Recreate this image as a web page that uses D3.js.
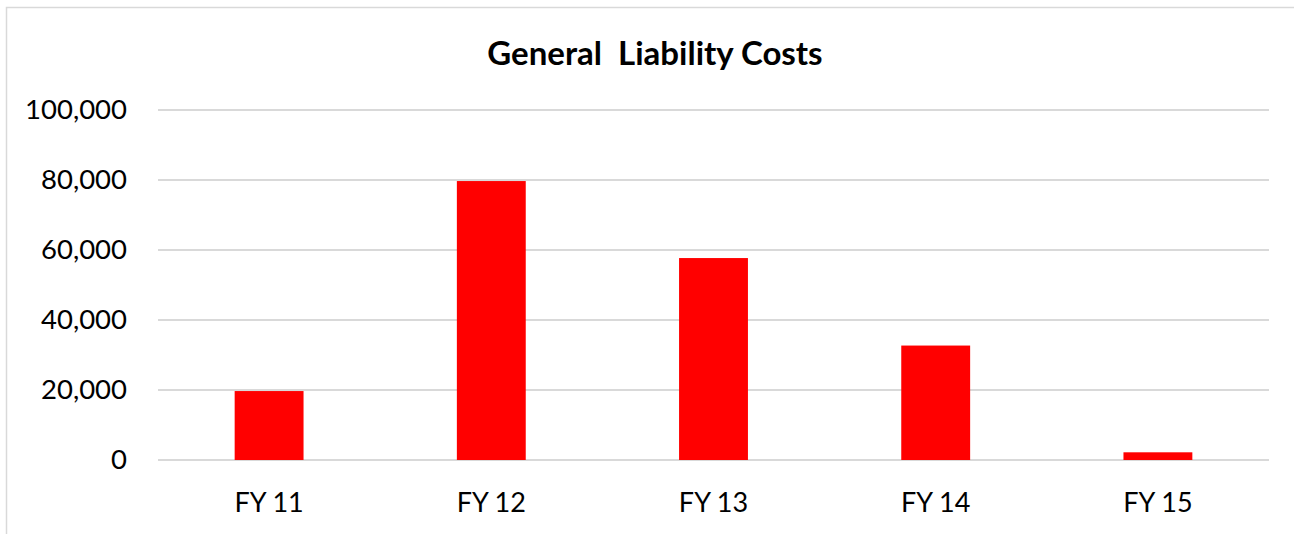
<!DOCTYPE html>
<meta charset="utf-8">
<html>
<head>
<style>
  body { margin: 0; background: #fff; }
  text { font-family: Lato, "Open Sans", sans-serif; }
</style>
</head>
<body>
<div id="chart"></div>
<script src="https://d3js.org/d3.v7.min.js"></script>
<script>
  // data
  var categories = ["FY 11", "FY 12", "FY 13", "FY 14", "FY 15"];
  var costs = [19700, 79700, 57700, 32700, 2200];
  var yTicks = [0, 20000, 40000, 60000, 80000, 100000];

  var W = 1294, H = 534;
  var margin = {top: 110, right: 25, bottom: 74, left: 158};
  var width = W - margin.left - margin.right,
      height = H - margin.top - margin.bottom;

  var svg = d3.select("#chart").append("svg")
      .attr("width", W)
      .attr("height", H);

  // outer chart border
  svg.append("rect")
    .attr("x", 6.5).attr("y", 7.5)
    .attr("width", 1300).attr("height", 540)
    .attr("fill", "none")
    .attr("stroke", "#d9d9d9")
    .attr("stroke-width", 1.5);

  svg.append("text")
    .attr("x", 655).attr("y", 65)
    .attr("text-anchor", "middle")
    .style("font-size", "33px")
    .style("font-weight", "bold")
    .attr("xml:space", "preserve")
    .text("General  Liability Costs");

  var g = svg.append("g")
    .attr("transform", "translate(" + margin.left + "," + margin.top + ")");

  var x = d3.scaleBand()
    .domain(categories)
    .range([0, width])
    .paddingInner(0.69)
    .paddingOuter(0.345);

  var y = d3.scaleLinear()
    .domain([0, 100000])
    .range([height, 0]);

  // gridlines
  g.append("g")
    .selectAll("line")
    .data(yTicks)
    .enter().append("line")
      .attr("x1", 0).attr("x2", width)
      .attr("y1", function(d) { return y(d); })
      .attr("y2", function(d) { return y(d); })
      .attr("stroke", "#d9d9d9")
      .attr("stroke-width", 2);

  // y labels
  var yAxis = g.append("g")
    .call(d3.axisLeft(y).tickValues(yTicks).tickSize(0).tickPadding(31)
      .tickFormat(d3.format(",")));
  yAxis.select(".domain").remove();
  yAxis.selectAll("text")
    .style("font-size", "27.5px")
    .attr("fill", "#000")
    .attr("font-family", null);

  // bars
  g.append("g")
    .selectAll("rect")
    .data(costs)
    .enter().append("rect")
      .attr("x", function(d, i) { return x(categories[i]); })
      .attr("y", function(d) { return y(d); })
      .attr("width", x.bandwidth())
      .attr("height", function(d) { return height - y(d); })
      .attr("fill", "#ff0000");

  // x labels
  var xAxis = g.append("g")
    .attr("transform", "translate(0," + height + ")")
    .call(d3.axisBottom(x).tickSize(0).tickPadding(33));
  xAxis.select(".domain").remove();
  xAxis.selectAll("text")
    .style("font-size", "27px")
    .attr("fill", "#000")
    .attr("font-family", null);
</script>
</body>
</html>
